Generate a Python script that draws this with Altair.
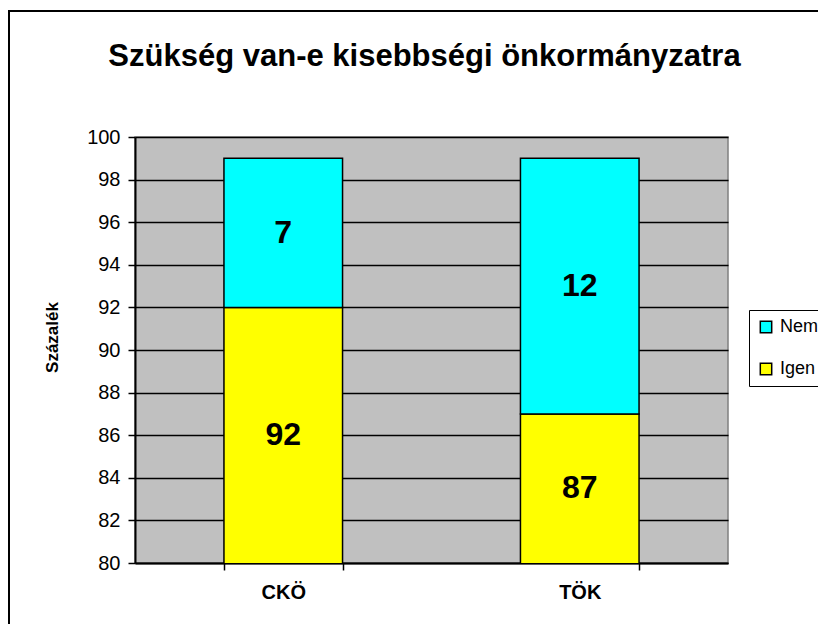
import altair as alt
import pandas as pd

categories = ["CKÖ", "TÖK"]
igen = [92, 87]
nem = [7, 12]
series = ["Igen", "Nem"]
y_ticks = list(range(80, 101, 2))
y_min, y_max = 80, 100

rows = []
for c, i_val, n_val in zip(categories, igen, nem):
    for s, start, end in (("Igen", 0, i_val), ("Nem", i_val, i_val + n_val)):
        vis_start = max(y_min, start)
        rows.append({"cat": c, "resp": s, "start": start, "end": end,
                     "val": end - start, "mid": (vis_start + end) / 2})
df = pd.DataFrame(rows)

FONT = "Liberation Sans"
W, H = 593, 426

x_enc = alt.X("cat:N", sort=categories, title=None,
              scale=alt.Scale(paddingInner=0.6, paddingOuter=0.3),
              axis=alt.Axis(tickBand="extent", labelFontWeight="bold", labelFontSize=20,
                            labelFont=FONT, labelColor="black", labelAngle=0,
                            tickColor="black", tickSize=7, tickWidth=1.5,
                            domainColor="black", domainWidth=2, labelPadding=12))

y_scale = alt.Scale(domain=[y_min, y_max], nice=False, zero=False)

bars = alt.Chart(df).mark_bar(stroke="black", strokeWidth=1.5, clip=True).encode(
    x=x_enc,
    y=alt.Y("start:Q", scale=y_scale, title="Százalék",
            axis=alt.Axis(values=y_ticks, labelFontSize=20, labelFont=FONT, labelColor="black",
                          tickColor="black", tickSize=7, tickWidth=1.5,
                          domainColor="black", domainWidth=2,
                          gridColor="black", gridWidth=1.5, grid=True, labelPadding=8,
                          titleFont=FONT, titleFontSize=17, titleFontWeight="bold",
                          titleColor="black", titleAngle=270, titleX=-83, titleY=200,
                          titleAlign="center", titleBaseline="middle")),
    y2="end:Q",
    color=alt.Color("resp:N", scale=alt.Scale(domain=["Nem", "Igen"], range=["#00FFFF", "#FFFF00"]),
                    title=None,
                    legend=alt.Legend(orient="none", legendX=614, legendY=173,
                                      strokeColor="black", fillColor="white", padding=8,
                                      symbolType="square", symbolSize=130,
                                      symbolStrokeColor="black", symbolStrokeWidth=1.5,
                                      symbolOpacity=1,
                                      labelFontSize=18, labelFont=FONT, labelColor="black",
                                      labelOffset=5, rowPadding=24)),
)

labels = alt.Chart(df).mark_text(fontSize=32, fontWeight="bold", font=FONT, color="black",
                                 baseline="middle").encode(
    x=alt.X("cat:N", sort=categories),
    y=alt.Y("mid:Q", scale=y_scale),
    text=alt.Text("val:Q"),
)

frame_left = alt.Chart(df).mark_rule(color="black", strokeWidth=2, clip=False).encode(
    x=alt.value(-126), y=alt.value(-127), y2=alt.value(H + 80))
frame_top = alt.Chart(df).mark_rule(color="black", strokeWidth=2, clip=False).encode(
    x=alt.value(-127), x2=alt.value(W + 100), y=alt.value(-126))

chart = alt.layer(bars, labels, frame_left, frame_top).properties(
    width=W, height=H,
    title=alt.Title("Szükség van-e kisebbségi önkormányzatra", font=FONT, fontSize=31,
                    fontWeight="bold", color="black", anchor="middle", dx=-7, offset=-64),
    autosize=alt.AutoSizeParams(type="none"),
    padding={"left": 127, "top": 129, "right": 90, "bottom": 61},
).configure(background="white", view=alt.ViewConfig(fill="#C0C0C0", stroke="#808080",
                                                     strokeWidth=1.5))

chart.save("out.html", embed_options={"renderer": "svg", "actions": False})
